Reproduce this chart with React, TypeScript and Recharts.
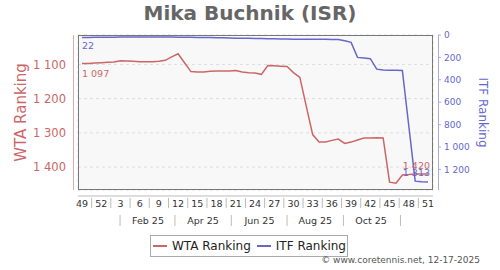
import React from 'react';
import { LineChart, Line, XAxis, YAxis, CartesianGrid, Legend, LabelList } from 'recharts';

const FONT = '"DejaVu Sans", sans-serif';
const RED = '#cc6666';
const BLUE = '#6666cc';

// week numbers (week 49 of 2024 .. week 51 of 2025)
const weekNumbers = [
  49, 50, 51, 52, 1, 2, 3, 4, 5, 6, 7, 8, 9, 10, 11, 12, 13, 14, 15, 16, 17, 18, 19, 20, 21, 22,
  23, 24, 25, 26, 27, 28, 29, 30, 31, 32, 33, 34, 35, 36, 37, 38, 39, 40, 41, 42, 43, 44, 45, 46,
  47, 48, 49, 50, 51,
];
const wtaRanking = [
  1097, 1097, 1096, 1095, 1094, 1093, 1089, 1090, 1091, 1092, 1092, 1092, 1091, 1088, 1078, 1069,
  1095, 1121, 1122, 1122, 1120, 1119, 1119, 1119, 1118, 1122, 1124, 1125, 1129, 1103, 1104, 1105,
  1106, 1124, 1138, 1222, 1305, 1327, 1327, 1322, 1318, 1331, 1327, 1321, 1315, 1315, 1314, 1315,
  1444, 1447, 1423, 1422, 1420, 1420, 1420,
];
const itfRanking = [
  22, 22, 21, 20, 20, 19, 18, 18, 17, 17, 17, 17, 17, 17, 18, 19, 20, 21, 22, 22, 23, 24, 25, 26,
  28, 29, 30, 31, 32, 33, 34, 35, 36, 37, 37, 38, 38, 38, 39, 40, 41, 52, 66, 200, 206, 211, 305,
  312, 314, 315, 317, 810, 1305, 1311, 1313,
];
const seriesNames = ['WTA Ranking', 'ITF Ranking'];
const weekTickIdx = [0, 3, 6, 9, 12, 15, 18, 21, 24, 27, 30, 33, 36, 39, 42, 45, 48, 51, 54];
const weekSepIdx = [1.5, 4.5, 7.5, 10.5, 13.5, 16.5, 19.5, 22.5, 25.5, 28.5, 31.5, 34.5, 37.5, 40.5, 43.5, 46.5, 49.5, 52.5];
const monthLabels = ['Feb 25', 'Apr 25', 'Jun 25', 'Aug 25', 'Oct 25'];
const monthLabelPos = [10.3, 18.9, 27.7, 36.4, 45.1];
const monthSepPos = [5.94, 14.5, 23.3, 32.0, 40.8, 49.7];
const monthStartPos = [3.6, 8.1, 12.3, 16.6, 21.1, 25.5, 29.8, 34.4, 38.6, 43.0, 47.5, 51.7];
const wtaTicks = [1100, 1200, 1300, 1400];
const itfTicks = [0, 200, 400, 600, 800, 1000, 1200];
const wtaDomain = [1014, 1467];
const itfDomain = [0, 1384];

const data = weekNumbers.map((w, i) => ({ idx: i, week: w, wta: wtaRanking[i], itf: itfRanking[i] }));

const fmt = (v: number) =>
  v >= 1000 ? `${Math.floor(v / 1000)}\u00A0${String(v % 1000).padStart(3, '0')}` : String(v);

const WeekTick = (p: any) => {
  const v = p.payload.value;
  if (Number.isInteger(v)) {
    return (
      <text x={p.x} y={p.y + 8.5} textAnchor="middle" fontSize={9.5} fill="#333" fontFamily={FONT}>
        {weekNumbers[v]}
      </text>
    );
  }
  return <line x1={p.x} x2={p.x} y1={p.y} y2={p.y + 10} stroke="#bbb" strokeWidth={1} />;
};

const MonthTick = (p: any) => {
  const v = p.payload.value;
  const li = monthLabelPos.indexOf(v);
  if (li >= 0) {
    return (
      <text x={p.x} y={p.y + 9} textAnchor="middle" fontSize={9.5} fill="#333" fontFamily={FONT}>
        {monthLabels[li]}
      </text>
    );
  }
  return <line x1={p.x} x2={p.x} y1={p.y} y2={p.y + 11} stroke="#bbb" strokeWidth={1} />;
};

const RightTick = (p: any) => (
  <g>
    <line x1={p.x - 6} x2={p.x - 3} y1={p.y} y2={p.y} stroke="#aaaadd" />
    <text x={p.x} y={p.y} dy={3.3} fontSize={9} fill={BLUE} fontFamily={FONT}>
      {fmt(p.payload.value)}
    </text>
  </g>
);

const AxisTitle = (p: any) => {
  const vb = p.viewBox || { x: 0, y: 0, width: 0, height: 0 };
  const cx = vb.x + p.offsetX;
  const cy = vb.y + vb.height / 2;
  return (
    <text
      x={cx} y={cy} transform={`rotate(${p.rot} ${cx} ${cy})`} textAnchor="middle"
      dominantBaseline="central" fontSize={p.fs} style={{ fontSize: `${p.fs}px`, fontFamily: FONT }} fill={p.color}
    >
      {p.text}
    </text>
  );
};

const makeEndLabel = (values: number[], color: string, first: [number, number], last: [number, number]) => (p: any) => {
  const { x, y, index } = p;
  if (index === 0) {
    return (
      <text x={x + first[0]} y={y + first[1]} fontSize={9.5} fill={color} fontFamily={FONT} textAnchor="start">
        {fmt(values[0])}
      </text>
    );
  }
  if (index === values.length - 1) {
    return (
      <text x={x + last[0]} y={y + last[1]} fontSize={9.5} fill={color} fontFamily={FONT} textAnchor="end">
        {fmt(values[index])}
      </text>
    );
  }
  return null;
};

const renderLegend = (props: any) => {
  const items = [...(props.payload || [])].sort(
    (a: any, b: any) => seriesNames.indexOf(a.value) - seriesNames.indexOf(b.value),
  );
  return (
    <div
      style={{
        display: 'flex',
        alignItems: 'center',
        border: '1px solid #aaa',
        height: 20,
        padding: '0 1px 0 2px',
        background: '#fff',
        fontFamily: FONT,
        fontSize: 12,
        color: '#222',
        whiteSpace: 'nowrap',
      }}
    >
      {items.map((e: any, i: number) => (
        <div key={i} style={{ display: 'flex', alignItems: 'center', marginLeft: i === 0 ? 0 : 6 }}>
          <span style={{ display: 'inline-block', width: 14, height: 2, background: e.color, marginRight: 5 }} />
          <span>{e.value}</span>
        </div>
      ))}
    </div>
  );
};

export default function App() {
  return (
    <div style={{ position: 'absolute', left: 0, top: 0, width: 500, height: 270, background: '#fff', fontFamily: FONT }}>
      <div
        style={{
          position: 'absolute', left: 0, top: 1, width: 500, textAlign: 'center', fontSize: 20,
          lineHeight: '24px', fontWeight: 'bold', color: '#666', fontFamily: FONT, zIndex: 2,
        }}
      >
        Mika Buchnik (ISR)
      </div>
      <LineChart width={500} height={270} data={data} margin={{ top: 35, right: 0, bottom: 37, left: 0 }}>
        <CartesianGrid xAxisId="a" yAxisId="l" fill="#f8f8f8" stroke="#dddddd" strokeDasharray="3 3" />
        <XAxis
          xAxisId="a" dataKey="idx" type="number" domain={[0, 54]} allowDataOverflow
          padding={{ left: 4, right: 5 }} ticks={monthStartPos} interval={0} height={6}
          axisLine={false} tickSize={5} tick={false} tickLine={{ stroke: '#dddddd' }}
        />
        <XAxis
          xAxisId="b" dataKey="idx" type="number" domain={[0, 54]} allowDataOverflow
          padding={{ left: 4, right: 5 }} ticks={[...weekTickIdx, ...weekSepIdx].sort((a, b) => a - b)}
          interval={0} height={17} axisLine={{ stroke: '#bbbbbb' }} tickLine={false} tickSize={0}
          tickMargin={2} tick={<WeekTick />}
        />
        <XAxis
          xAxisId="c" dataKey="idx" type="number" domain={[0, 54]} allowDataOverflow
          padding={{ left: 4, right: 5 }} ticks={[...monthLabelPos, ...monthSepPos].sort((a, b) => a - b)}
          interval={0} height={20} axisLine={false} tickLine={false} tickSize={0} tickMargin={2}
          tick={<MonthTick />}
        />
        <YAxis
          yAxisId="l" orientation="left" width={78} reversed type="number" domain={wtaDomain}
          allowDataOverflow ticks={wtaTicks} interval={0} axisLine={false} tickLine={false}
          tickSize={0} tickMargin={12} tickFormatter={fmt}
          tick={{ fill: RED, fontSize: 11.5, fontFamily: FONT }}
          label={<AxisTitle text="WTA Ranking" rot={-90} offsetX={21} fs={15} color={RED} />}
        />
        <YAxis
          yAxisId="r" orientation="right" width={67} reversed type="number" domain={itfDomain}
          allowDataOverflow ticks={itfTicks} interval={0} axisLine={false} tickLine={false}
          tickSize={8} tickMargin={3} tick={<RightTick />}
          label={<AxisTitle text="ITF Ranking" rot={90} offsetX={50} fs={12} color={BLUE} />}
        />
        <Legend
          verticalAlign="middle" align="center" layout="horizontal"
          wrapperStyle={{ left: 150, top: 235, width: 'auto', height: 'auto' }}
          content={renderLegend}
        />
        <Line
          xAxisId="b" yAxisId="l" dataKey="wta" name="WTA Ranking" stroke={RED} strokeWidth={1.5}
          dot={false} isAnimationActive={false}
        >
          <LabelList dataKey="wta" content={makeEndLabel(wtaRanking, RED, [0, 14], [2, -5])} />
        </Line>
        <Line
          xAxisId="b" yAxisId="r" dataKey="itf" name="ITF Ranking" stroke={BLUE} strokeWidth={1.5}
          dot={false} isAnimationActive={false}
        >
          <LabelList dataKey="itf" content={makeEndLabel(itfRanking, BLUE, [0, 12], [2, -6])} />
        </Line>
      </LineChart>
      <div style={{ position: 'absolute', left: 78, top: 35, width: 355, height: 155, border: '1px solid #777', boxSizing: 'border-box', pointerEvents: 'none' }} />
      <div style={{ position: 'absolute', left: 73, top: 35, width: 1, height: 155, background: '#e3aaaa' }} />
      <div style={{ position: 'absolute', left: 438, top: 35, width: 1, height: 155, background: '#aaaae3' }} />
      <div
        style={{
          position: 'absolute', right: 20, top: 255, fontSize: 9, lineHeight: '11px', color: '#555',
          fontFamily: FONT, whiteSpace: 'nowrap',
        }}
      >
        © www.coretennis.net, 12-17-2025
      </div>
    </div>
  );
}
